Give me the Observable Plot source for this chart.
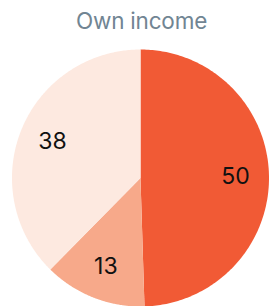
<!DOCTYPE html>
<html><head><meta charset="utf-8">
<script src="https://cdn.jsdelivr.net/npm/d3@7"></script>
<script src="https://cdn.jsdelivr.net/npm/@observablehq/plot@0.6"></script>
<style>
body{margin:0;background:#fff;}
#title{box-sizing:border-box;height:36px;padding-top:10px;width:271px;text-align:center;font-family:Inter,sans-serif;font-size:22.5px;line-height:22px;color:#718593;padding-left:12px;letter-spacing:-0.2px;}
#chart svg{display:block;}
</style></head><body>
<div id="title">Own income</div>
<div id="chart"></div>
<script>
const categories = ["Own income", "Other A", "Other B"];
const values = [50, 13, 38];
const colors = ["#f15a35", "#f7a98a", "#fde9e0"];

const arcs = d3.pie().sort(null).value(d => d.value)(categories.map((c, i) => ({category: c, value: values[i]})));
const poly = [];
arcs.forEach((a, i) => {
  const cat = a.data.category;
  poly.push({cat, x: 0, y: 0});
  const n = 200;
  for (let k = 0; k <= n; k++) {
    const t = a.startAngle + (a.endAngle - a.startAngle) * k / n;
    poly.push({cat, x: Math.sin(t), y: Math.cos(t)});
  }
  poly.push({cat, x: 0, y: 0});
});
const labels = arcs.map(a => {
  const m = (a.startAngle + a.endAngle) / 2;
  return {cat: a.data.category, value: a.data.value, x: 0.74 * Math.sin(m), y: 0.74 * Math.cos(m)};
});
const R = 128.5, W = 271, H = 270, cx = 140, cy = 141.5;
const chart = Plot.plot({
  width: W, height: H,
  margin: 0,
  x: {domain: [-cx / R, (W - cx) / R], axis: null},
  y: {domain: [-(H - cy) / R, cy / R], axis: null},
  color: {domain: categories, range: colors},
  marks: [
    Plot.line(poly, {x: "x", y: "y", z: "cat", fill: "cat", stroke: "none"}),
    Plot.text(labels, {x: "x", y: "y", text: d => String(d.value), fill: "#111", fontSize: 23, fontFamily: "Inter, sans-serif"})
  ]
});
document.getElementById("chart").append(chart);
</script>
</body></html>
